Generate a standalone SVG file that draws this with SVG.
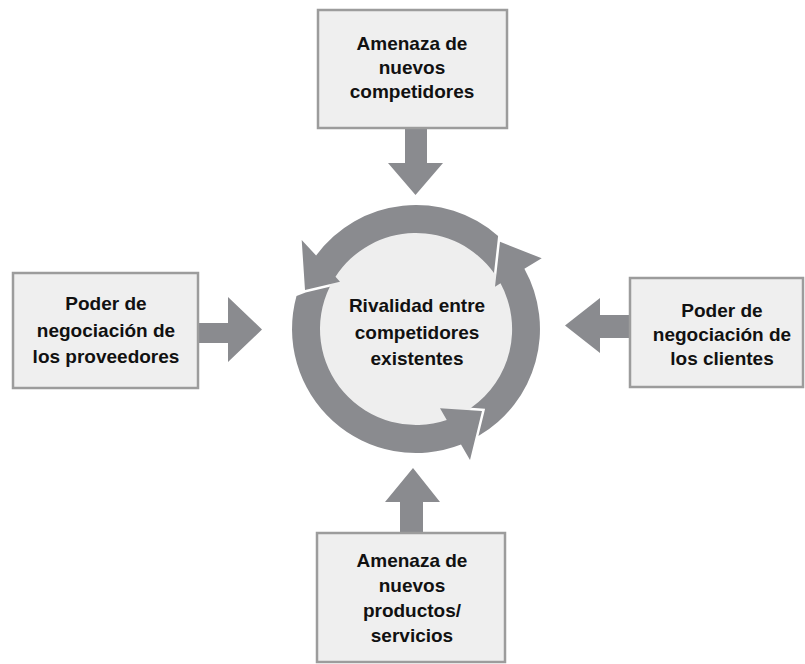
<svg xmlns="http://www.w3.org/2000/svg" width="805" height="664" viewBox="0 0 805 664">
  <style>
    .box { fill: #efefef; stroke: #9c9c9c; stroke-width: 2.5; }
    .arrow { fill: #8a8b8f; }
    .ring { fill: #8a8b8f; }
    .t { font-family: "Liberation Sans", Arial, sans-serif; font-weight: bold; font-size: 19px; fill: #111; text-anchor: middle; }
  </style>
  <rect width="805" height="664" fill="#ffffff"/>

  <g id="connectors">
    <polygon class="arrow" points="405,128 427,128 427,163 443,163 415.5,195 388,163 405,163"/>
    <polygon class="arrow" points="198,323 228,323 228,297 262,329.5 228,362 228,343 198,343"/>
    <polygon class="arrow" points="630,315 600,315 600,298 565,325.5 600,353 600,338 630,338"/>
    <polygon class="arrow" points="400,533 400,502 385,502 413,468 440,502 423,502 423,533"/>
  </g>

  <g id="rivalidad">
    <circle cx="416" cy="329" r="97" fill="#eeeeee"/>
    <path class="ring" d="M 498.1,236 A 124 124 0 0 0 316.1,255.6 L 301.7,240 L 305,290 L 340,281.7 L 335.5,276.7 A 96 96 0 0 1 494,273 Z"/>
    <path class="ring" d="M 296.5,295.9 A 124 124 0 0 0 461,444.5 L 470,460 L 482,411 L 440,408.3 L 446.75,419.9 A 96 96 0 0 1 329.8,286.7 L 305.6,292.4 Z"/>
    <path class="ring" d="M 478.4,436.1 A 124 124 0 0 0 524.4,268.8 L 541.7,258.3 L 500,241.7 L 495,286.7 L 500.5,283.35 A 96 96 0 0 1 471.1,407.8 L 485.1,408.7 Z"/>
    <text class="t" x="417" y="312">Rivalidad entre</text>
    <text class="t" x="417" y="339">competidores</text>
    <text class="t" x="417" y="365">existentes</text>
  </g>

  <g id="nuevos-competidores">
    <rect class="box" x="318" y="10" width="189" height="118"/>
    <text class="t" x="412" y="50">Amenaza de</text>
    <text class="t" x="412" y="74">nuevos</text>
    <text class="t" x="412" y="98">competidores</text>
  </g>

  <g id="proveedores">
    <rect class="box" x="13" y="273" width="185" height="115"/>
    <text class="t" x="106" y="310">Poder de</text>
    <text class="t" x="106" y="336.5">negociación de</text>
    <text class="t" x="106" y="363">los proveedores</text>
  </g>

  <g id="clientes">
    <rect class="box" x="630" y="278" width="173" height="109"/>
    <text class="t" x="722" y="317">Poder de</text>
    <text class="t" x="722" y="341">negociación de</text>
    <text class="t" x="722" y="365">los clientes</text>
  </g>

  <g id="sustitutos">
    <rect class="box" x="317" y="533" width="188" height="129"/>
    <text class="t" x="412" y="567">Amenaza de</text>
    <text class="t" x="412" y="592">nuevos</text>
    <text class="t" x="412" y="617">productos/</text>
    <text class="t" x="412" y="642">servicios</text>
  </g>
</svg>
